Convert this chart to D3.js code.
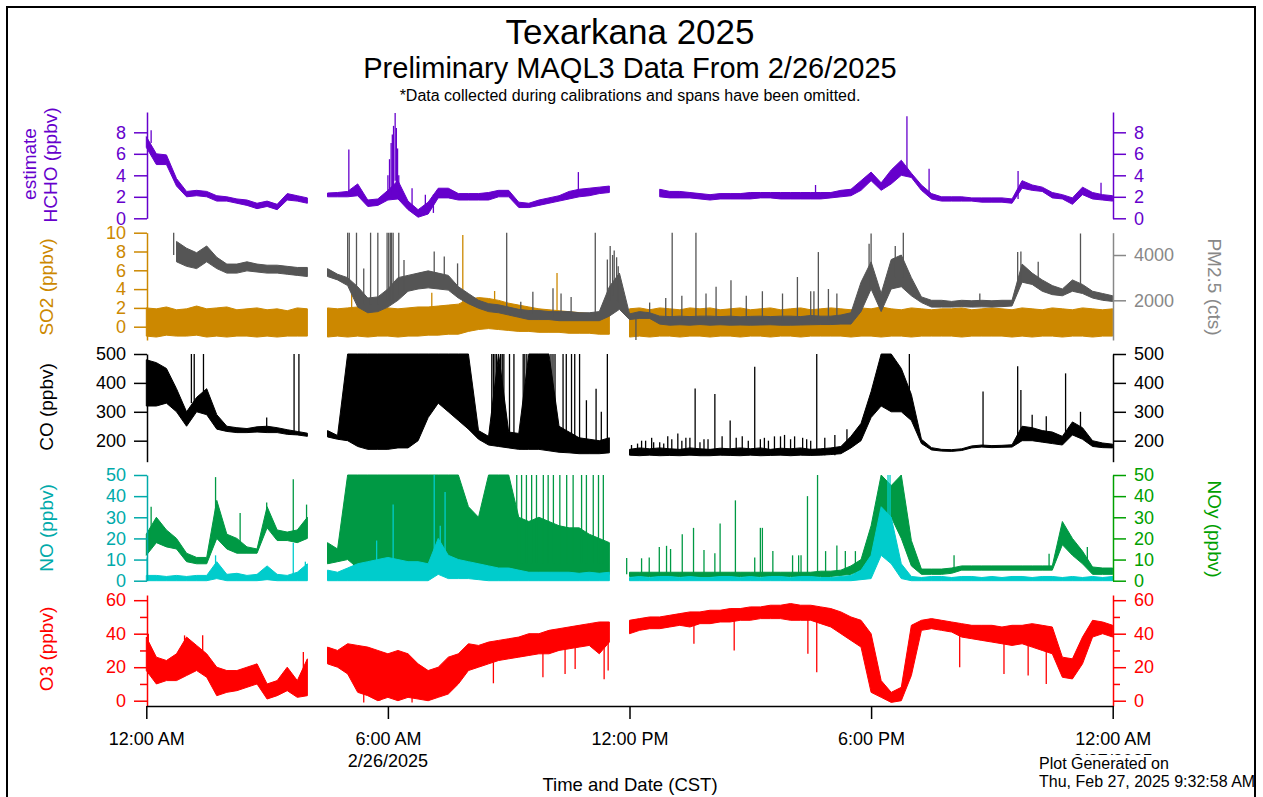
<!DOCTYPE html>
<html>
<head>
<meta charset="utf-8">
<script src="https://cdn.jsdelivr.net/npm/d3@7"></script>
<style>
body { margin: 0; background: #fff; }
</style>
</head>
<body>
<svg id="chart" width="1263" height="797"></svg>
<script>
var FONT = '"Liberation Sans", Arial, Helvetica, sans-serif';

// 15 minute sampling grid, hours after midnight 2/26/2025
var hours = d3.range(0, 24.01, 0.25);

var xTicks = [0, 6, 12, 18, 24];
var xTickLabels = ["12:00 AM", "6:00 AM", "12:00 PM", "6:00 PM", "12:00 AM"];
var xDateLabels = ["", "2/26/2025", "", "", "2/27/2025"];

// each series: low / high envelope per 15 min (null = omitted)
var hchoLo = [
  6.6, 5.0, 5.0, 3.0,   2.0, 2.1, 2.0, 1.6,   1.6, 1.4, 1.2, 0.9,   1.1, 0.8, 1.7, 1.6,
  1.4, null, 2.0, 2.0,  2.0, 2.1, 1.1, 1.2,   1.7, 1.8, 0.8, 0.1,   0.4, 1.9, 1.9, 1.7,
  1.7, 1.7, 1.7, 2.0,   2.0, 1.0, 1.0, 1.2,   1.4, 1.6, 1.8, 2.0,   2.1, 2.3, 2.4, null,
  null, null, null, 2.0, 1.9, 1.9, 1.9, 1.8,  1.7, 1.8, 1.8, 1.8,   1.8, 1.9, 1.9, 1.8,
  1.8, 1.8, 1.8, 1.8,   1.9, 2.0, 2.1, 2.6,   3.5, 2.6, 3.2, 4.0,   3.8, 2.6, 1.8, 1.6,
  1.6, 1.6, 1.6, 1.5,   1.5, 1.5, 1.4, 2.8,   2.6, 2.5, 1.9, 1.8,   1.3, 2.2, 1.8, 1.7,
  1.6
];
var hchoHi = [
  7.6, 6.0, 5.9, 3.7,   2.5, 2.6, 2.5, 2.1,   2.0, 1.8, 1.7, 1.4,   1.6, 1.3, 2.3, 2.1,
  1.9, null, 2.35, 2.4, 2.5, 3.2, 1.7, 1.8,   2.6, 3.5, 1.6, 0.8,   1.5, 2.8, 2.8, 2.3,
  2.3, 2.3, 2.4, 2.6,   2.6, 1.5, 1.4, 1.7,   1.9, 2.1, 2.5, 2.7,   2.8, 2.9, 3.0, null,
  null, null, null, 2.7, 2.5, 2.5, 2.4, 2.3,  2.2, 2.3, 2.3, 2.3,   2.4, 2.4, 2.4, 2.4,
  2.4, 2.4, 2.4, 2.4,   2.4, 2.6, 2.7, 3.5,   4.3, 3.3, 4.5, 5.4,   4.2, 3.1, 2.3, 2.0,
  2.0, 2.0, 1.9, 1.9,   1.9, 1.9, 1.8, 3.5,   3.1, 2.9, 2.4, 2.2,   1.9, 2.9, 2.4, 2.2,
  2.1
];
// [hour, from, to]
var hchoSpikes = [[0.12, 7.0, 8.2], [5.03, 2.2, 6.4], [6.0, 2, 4], [6.04, 2, 5.5], [6.08, 2.2, 7.0],
  [6.11, 2.5, 7.8], [6.14, 3, 8.6], [6.18, 3.5, 9.8], [6.21, 3, 8.4], [6.24, 2.5, 6.5], [6.27, 2, 4],
  [6.6, 1.0, 2.8], [6.93, 0.5, 2.2], [7.13, 0.5, 2.2], [10.73, 2.5, 4.3], [16.62, 2.2, 3.1],
  [18.89, 4.2, 9.5], [19.44, 2.2, 4.6], [21.65, 1.8, 4.4], [23.71, 2.0, 3.3]];

var so2Lo = [
  -1.0, -1.1, -0.9, -1.0,  -1.0, -0.9, -1.1, -1.0,  -1.1, -1.0, -1.0, -1.1,  -1.0, -1.1, -1.0, -1.0,
  -1.0, null, -1.1, -1.0,  -1.1, -1.0, -1.1, -1.0,  -1.0, -1.1, -1.0, -1.0,  -0.9, -0.9, -0.8, -0.8,
  -0.5, -0.3, -0.2, -0.3,  -0.4, -0.5, -0.5, -0.6,  -0.6, -0.6, -0.7, -0.7,  -0.7, -0.8, -0.8, null,
  -1.1, -1.0, -1.1, -1.0,  -1.0, -1.1, -1.0, -1.0,  -1.1, -1.0, -1.0, -1.1,  -1.0, -1.0, -1.1, -1.0,
  -1.0, -1.1, -1.0, -1.0,  -1.0, -1.0, -1.1, -1.0,  -1.0, -1.1, -1.0, -1.0,  -1.1, -1.0, -1.0, -1.0,
  -1.0, -1.1, -1.0, -1.0,  -1.0, -1.0, -1.1, -1.0,  -1.1, -1.0, -1.0, -1.1,  -1.0, -1.0, -1.1, -1.0,
  -1.0
];
var so2Hi = [
  2.0, 1.9, 2.1, 1.8,   1.9, 2.2, 1.9, 2.0,   2.1, 1.8, 1.9, 2.0,   1.8, 1.9, 1.7, 2.0,
  1.9, null, 2.0, 1.9,  2.0, 2.1, 1.9, 2.0,   2.0, 1.9, 2.0, 2.1,   2.1, 2.2, 2.3, 2.4,
  2.9, 3.1, 3.0, 2.8,   2.5, 2.3, 2.1, 1.9,   1.8, 1.7, 1.6, 1.5,   1.4, 1.3, 1.3, null,
  1.9, 2.0, 1.8, 2.0,   1.9, 1.8, 2.0, 1.9,   2.0, 1.8, 1.9, 2.0,   1.8, 1.9, 2.0, 1.8,
  1.9, 2.0, 1.8, 1.9,   2.0, 1.9, 1.8, 2.0,   1.9, 2.1, 1.9, 1.8,   2.0, 1.9, 1.8, 1.9,
  1.9, 2.0, 1.8, 1.9,   2.0, 1.9, 1.8, 2.0,   1.9, 1.8, 2.0, 1.9,   1.8, 2.0, 1.9, 1.8,
  1.9
];
var so2Spikes = [[5.1, 1.5, 3.7], [7.09, 1.8, 3.6], [7.86, 2.0, 9.75], [8.65, 2.5, 3.8], [10.2, 1.6, 5.7]];

var pmLo = [
  null, null, null, 3700,  3500, 3400, 3700, 3400,  3200, 3200, 3300, 3250,  3200, 3200, 3150, 3100,
  3050, null, 3050, 2900,  2650, 1700, 1450, 1500,  1700, 2000, 2400, 2500,  2550, 2500, 2450, 2100,
  1850, 1650, 1500, 1450,  1350, 1250, 1150, 1150,  1150, 1100, 1100, 1100,  1100, 1100, 1300, 1600,
  1150, 1200, 1200, 950,   900, 920, 900, 930,      900, 920, 900, 910,      900, 910, 920, 900,
  900, 910, 920, 930,      930, 950, 950, 1500,     2500, 1500, 2500, 2600,  2200, 1900, 1700, 1700,
  1700, 1720, 1700, 1710,  1700, 1720, 1750, 2800,  2700, 2400, 2250, 2200,  2400, 2300, 2100, 2000,
  1950
];
var pmHi = [
  null, null, null, 4600,  4300, 4100, 4400, 3900,  3600, 3600, 3700, 3600,  3550, 3550, 3500, 3450,
  3450, null, 3400, 3150,  3000, 2600, 2100, 2150,  2500, 3000, 3100, 3200,  3300, 3200, 3100, 2600,
  2300, 2000, 1850, 1800,  1700, 1600, 1550, 1550,  1500, 1500, 1500, 1450,  1450, 1500, 2600, 3200,
  1400, 1500, 1450, 1300,  1280, 1300, 1280, 1300,  1300, 1280, 1300, 1270,  1290, 1300, 1280, 1300,
  1300, 1280, 1330, 1300,  1300, 1350, 1450, 2800,  3700, 2300, 3800, 4000,  3000, 2150, 2000, 2000,
  1950, 2000, 1980, 2000,  1980, 2000, 2000, 3600,  3200, 2900, 2650, 2500,  2900, 2700, 2400, 2300,
  2200
];
var pmSpikes = [[0.68, 4000, 4985], [5.0, 2800, 4985], [5.04, 2800, 4985], [5.22, 2200, 4985],
  [5.4, 1800, 3400], [5.57, 1800, 4985], [5.75, 1800, 4985], [5.98, 2000, 4985], [6.02, 2000, 4985],
  [6.06, 2000, 4985], [6.09, 2000, 4985], [6.13, 2000, 4985], [6.27, 2200, 4985], [6.4, 2400, 3780],
  [7.15, 2900, 4150], [7.4, 2900, 3930], [7.73, 2500, 3630], [8.95, 1700, 4985], [9.3, 1400, 1940],
  [9.6, 1400, 2380], [10.1, 1300, 2530], [10.3, 1300, 2300], [10.55, 1300, 2150], [11.15, 1300, 4985],
  [11.45, 1800, 3800], [11.52, 2000, 4400], [11.58, 2200, 4000], [11.62, 2200, 4200], [11.68, 2000, 3900],
  [11.72, 1900, 3500], [12.16, 1300, 250], [12.5, 1200, 1900], [12.9, 1100, 2100], [13.06, 1100, 4985],
  [13.3, 1100, 2200], [13.65, 1100, 4985], [13.9, 1100, 2300], [14.15, 1100, 2600], [14.52, 1100, 2880],
  [14.9, 1100, 2200], [15.3, 1100, 2400], [15.8, 1100, 2300], [16.17, 1100, 3030], [16.5, 1100, 2400],
  [16.58, 1100, 2400], [16.69, 1100, 4130], [16.94, 1100, 2500], [17.15, 1100, 2300], [17.95, 2600, 4500],
  [18.0, 2800, 4950], [18.6, 3000, 4400], [18.8, 3000, 4985], [20.7, 1900, 2300], [21.64, 2800, 4130],
  [21.72, 2800, 4150], [22.15, 2800, 3700], [23.2, 2600, 4950]];

var coLo = [
  320, 320, 330, 300,   250, 300, 290, 240,   232, 228, 228, 230,   228, 228, 222, 220,
  215, null, 213, 205,  200, 180, 170, 170,   170, 175, 175, 200,   280, 330, 300, 270,
  240, 205, 185, 180,   175, 170, 170, 170,   165, 160, 158, 155,   155, 155, 158, null,
  150, 148, 150, 148,   149, 148, 150, 148,   148, 150, 149, 148,   150, 148, 149, 150,
  148, 150, 149, 150,   152, 155, 175, 200,   280, 320, 300, 300,   270, 190, 168, 164,
  163, 166, 175, 178,   176, 177, 178, 200,   200, 195, 190, 185,   220, 205, 180, 176,
  175
];
var coHi = [
  480, 470, 450, 380,   300, 350, 380, 290,   250, 245, 242, 248,   250, 245, 238, 232,
  226, null, 235, 218,  500, 500, 500, 500,   500, 500, 500, 500,   500, 500, 500, 500,
  500, 235, 215, 500,   230, 225, 500, 500,   500, 250, 230, 210,   205, 200, 210, null,
  170, 175, 172, 175,   172, 170, 175, 172,   170, 174, 172, 175,   172, 175, 170, 174,
  172, 175, 170, 172,   175, 180, 215, 260,   370, 500, 500, 450,   360, 205, 176, 170,
  169, 172, 182, 185,   183, 184, 186, 250,   245, 235, 230, 215,   265, 245, 200, 192,
  188
];
var coSpikes = [[1.12, 330, 500], [1.19, 330, 500], [1.42, 340, 500], [2.99, 235, 280], [3.67, 220, 500],
  [3.79, 220, 500], [8.58, 190, 500], [8.62, 190, 500], [8.66, 190, 500], [8.7, 190, 500],
  [8.8, 190, 500], [8.84, 190, 500], [8.88, 190, 500], [9.02, 180, 500], [9.13, 180, 500],
  [9.36, 170, 500], [9.4, 170, 500], [9.45, 170, 500], [10.05, 165, 500], [10.1, 165, 500],
  [10.15, 165, 500], [10.35, 160, 500], [10.43, 160, 500], [10.56, 160, 500], [10.64, 160, 500],
  [10.76, 160, 500], [10.93, 158, 340], [11.17, 158, 380], [11.3, 158, 300], [11.45, 158, 500],
  [12.05, 150, 185], [12.2, 150, 190], [12.3, 160, 200], [12.4, 150, 200], [12.55, 160, 210],
  [12.6, 150, 195], [12.75, 160, 195], [12.85, 150, 190], [12.95, 160, 215], [13.05, 150, 205],
  [13.2, 160, 225], [13.3, 150, 200], [13.4, 160, 210], [13.5, 150, 210], [13.63, 165, 381],
  [13.75, 150, 195], [13.85, 160, 205], [13.95, 150, 205], [14.12, 160, 362], [14.3, 150, 215],
  [14.5, 160, 270], [14.65, 150, 210], [14.8, 160, 215], [14.95, 150, 200], [15.11, 165, 456],
  [15.25, 150, 205], [15.35, 160, 210], [15.45, 150, 200], [15.6, 160, 215], [15.75, 150, 215],
  [15.85, 160, 220], [16.0, 150, 205], [16.1, 160, 215], [16.3, 150, 210], [16.4, 160, 205],
  [16.5, 150, 200], [16.65, 165, 500], [16.85, 150, 210], [17.1, 150, 220], [17.4, 170, 240],
  [18.95, 320, 500], [20.78, 180, 370], [21.64, 190, 458], [21.72, 200, 375], [22.0, 210, 290],
  [22.35, 210, 285], [22.83, 230, 433], [23.2, 230, 300]];

var noyLo = [
  12, 18, 16, 15,   9, 8, 8, 20,     15, 13, 13, 13,   25, 19, 19, 18,
  20, null, 8, 9,   10, 6, 5, 5,     5, 5, 5, 5,       6, 7, 8, 8,
  8, 8, 6, 6,       6, 5, 4, 4,      4, 3, 3, 3,       3, 3, 3, null,
  2, 2, 2, 2,       2, 2, 2, 2,      2, 2, 2, 2,       2, 2, 2, 2,
  2, 2, 2, 2,       2, 2.5, 3, 5,    8, 26, 30, 20,    7, 3, 3, 3,
  3.5, 5, 5, 5,     5, 5, 5, 5,      5, 5, 5, 17,      12, 8, 3, 3,
  3
];
var noyHi = [
  22, 30, 24, 20,   13, 11, 11, 38,   22, 20, 16, 15,   35, 24, 23, 24,
  30, null, 18, 15, 50, 50, 50, 50,   50, 50, 50, 50,   50, 50, 50, 50,
  35, 30, 50, 50,   50, 30, 28, 30,   28, 26, 25, 25,   22, 20, 18, null,
  4, 4, 4, 4,       4, 4, 4, 4,       4, 4, 4, 4,       4, 4, 4, 4,
  4, 4, 4, 4.5,     4.5, 5, 7, 10,    26, 50, 45, 50,   19, 5.5, 5.5, 5.5,
  6, 7, 7, 7,       7, 7, 7, 7,       7, 7, 7, 28,      20, 14, 6.5, 6,
  6
];
var noySpikes = [[0.12, 20, 35], [1.72, 30, 49], [2.33, 18, 32], [2.99, 25, 37], [3.65, 22, 48],
  [3.98, 22, 36], [9.2, 8, 50], [9.32, 8, 50], [9.44, 8, 50], [9.57, 8, 50], [9.69, 8, 50],
  [9.86, 8, 50], [9.98, 8, 50], [10.11, 8, 50], [10.27, 8, 50], [10.44, 8, 50], [10.6, 8, 50],
  [10.81, 8, 50], [10.93, 8, 50], [11.1, 8, 50], [11.23, 8, 50], [11.35, 8, 50],
  [11.93, 3, 10.7], [12.3, 3, 10.6], [12.49, 3, 11], [12.74, 3, 16], [12.92, 3, 16.5], [13.02, 3, 15],
  [13.31, 3, 22], [13.59, 3, 25], [13.85, 3, 14.5], [14.12, 3, 13], [14.25, 3, 27], [14.63, 3, 38],
  [15.11, 3, 11], [15.25, 3, 25], [15.3, 3, 25], [15.56, 3, 14], [16.05, 3, 12], [16.2, 3, 12],
  [16.26, 3, 12], [16.42, 3, 40], [16.67, 3, 50], [16.87, 3, 14], [17.15, 3, 16.6], [17.36, 3, 14],
  [17.61, 3, 14], [20.06, 5, 12], [22.42, 6, 12.8], [23.37, 8, 16]];

var noLo = [
  0, 0, 0, 0,   0, 0, 0, 1,   0, 0, 0, 0,   0.5, 0, 0, 0,
  0, null, 0, 0,  0, 0, 0, 0,  0, 0, 0, 0,   0, 3, 1, 1,
  1, 0.5, 0, 0,  0, 0, 0, 0,  0, 0, 0, 0,   0, 0, 0, null,
  0, 0, 0, 0,   0, 0, 0, 0,   0, 0, 0, 0,   0, 0, 0, 0,
  0, 0, 0, 0,   0, 0, 0, 0.5, 1, 12, 8, 1,  0, 0, 0, 0,
  0, 0, 0, 0,   0, 0, 0, 0,   0, 0, 0, 0,   0, 0, 0, 0,
  0
];
var noHi = [
  2.5, 2.5, 2, 2.5,  2, 2.5, 2.5, 9,   3, 3.5, 2.5, 3,   7, 3, 2.5, 4,
  8, null, 5, 4,     6, 8, 9, 10,      11, 10, 9, 9,     8, 20, 12, 10,
  9, 8, 7, 6,        6, 5, 4, 4,       4, 4, 4, 3.5,     4, 3.5, 4, null,
  1.5, 2, 1.5, 2,    2, 1.5, 2, 1.5,   1.5, 2, 2, 1.5,   2, 1.5, 2, 2,
  1.5, 2, 2, 1.5,    1.5, 2, 2.5, 5,   12, 35, 30, 8,    2, 1.5, 2, 2,
  1.5, 2, 2, 1.5,    2, 1.5, 2, 2,     1.5, 2, 2, 1.5,   2, 1.5, 2, 1.5,
  2
];
var noSpikes = [[0.02, 2, 11], [1.72, 3, 12], [3.65, 3, 18], [3.95, 3, 9], [5.72, 4, 19], [6.13, 4, 36],
  [7.15, 10, 50], [7.3, 10, 26], [7.42, 10, 42], [18.42, 30, 50], [18.47, 30, 50]];

var o3Lo = [
  18, 10, 12, 12,   15, 18, 14, 3,    5, 6, 8, 10,      1, 3, 6, 2,
  3, null, 22, 20,  16, 5, 3, 0,      2, 0, 2, 1,       0, 2, 4, 10,
  18, 20, 22, 24,   25, 26, 27, 28,   28, 30, 31, 32,   33, 28, 35, null,
  40, 42, 43, 43,   44, 45, 44, 46,   46, 47, 47, 48,   48, 49, 49, 49,
  48, 48, 48, 46,   44, 40, 36, 32,   5, 2, -1, 0,      15, 42, 43, 42,
  41, 38, 37, 36,   35, 34, 33, 34,   32, 30, 28, 14,   13, 22, 38, 40,
  38
];
var o3Hi = [
  38, 26, 24, 28,   38, 33, 28, 20,   18, 18, 20, 22,   10, 12, 20, 12,
  25, null, 32, 30, 34, 33, 32, 30,   28, 30, 28, 22,   18, 20, 26, 28,
  34, 33, 35, 36,   37, 38, 40, 40,   42, 43, 44, 45,   46, 47, 47, null,
  48, 49, 50, 50,   51, 52, 53, 53,   54, 54, 55, 55,   56, 56, 57, 57,
  58, 57, 57, 56,   55, 53, 50, 48,   40, 12, 5, 8,     45, 48, 49, 48,
  47, 46, 45, 45,   45, 44, 45, 45,   46, 45, 44, 26,   25, 38, 48, 47,
  45
];
var o3Spikes = [[0.05, 25, 40], [0.95, 25, 39], [1.4, 25, 39], [3.9, 15, 29], [5.4, 15, -1], [5.8, 15, 0],
  [6.6, 10, -1], [8.62, 25, 10.4], [9.85, 30, 14], [10.4, 32, 16], [10.65, 34, 19], [11.37, 36, 12.8],
  [11.47, 40, 18], [13.6, 47, 34], [14.6, 48, 30], [16.43, 50, 28], [16.65, 52, 17], [20.2, 40, 20],
  [21.3, 38, 16], [21.9, 38, 15], [22.35, 35, 10]];

var svg = d3.select("#chart");

var x = d3.scaleLinear().domain([0, 24]).range([146.3, 1112.7]);
var xL = 147, xR = 1113;

var yHcho = d3.scaleLinear().domain([0, 9.89]).range([218.3, 112]).clamp(true);
var ySo2 = d3.scaleLinear().domain([-1.415, 10]).range([340, 232.7]).clamp(true);
var yPm = d3.scaleLinear().domain([247, 4985]).range([340, 232.7]).clamp(true);
var yCo = d3.scaleLinear().domain([127.3, 500]).range([461.7, 354]).clamp(true);
var yNo = d3.scaleLinear().domain([0, 50]).range([580.7, 475]).clamp(true);
var yO3 = d3.scaleLinear().domain([-3.16, 63.1]).range([706, 595]).clamp(true);

// frame
svg.append("defs").append("clipPath").attr("id", "frame")
  .append("rect").attr("x", 8).attr("y", 8).attr("width", 1246).attr("height", 800);
svg.append("rect").attr("x", 7).attr("y", 7).attr("width", 1248).attr("height", 820)
  .attr("fill", "#fff").attr("stroke", "#000").attr("stroke-width", 2);

var root = svg.append("g").attr("clip-path", "url(#frame)");

// titles
root.append("text").attr("x", 630).attr("y", 44).attr("text-anchor", "middle")
  .attr("font-family", FONT).attr("font-size", 35).text("Texarkana 2025");
root.append("text").attr("x", 630).attr("y", 78).attr("text-anchor", "middle")
  .attr("font-family", FONT).attr("font-size", 29).text("Preliminary MAQL3 Data From 2/26/2025");
root.append("text").attr("x", 630).attr("y", 101).attr("text-anchor", "middle")
  .attr("font-family", FONT).attr("font-size", 16).text("*Data collected during calibrations and spans have been omitted.");

function band(lo, hi, y, color) {
  var data = hours.map(function(t, i) { return {t: t, lo: lo[i], hi: hi[i]}; });
  var area = d3.area()
    .defined(function(d) { return d.lo != null && d.hi != null; })
    .x(function(d) { return x(d.t); })
    .y0(function(d) { return y(d.lo); })
    .y1(function(d) { return y(d.hi); });
  root.append("path").datum(data).attr("d", area)
    .attr("fill", color).attr("stroke", color).attr("stroke-width", 1).attr("stroke-linejoin", "round");
}

function spikes(list, y, color) {
  root.append("g").selectAll("line").data(list).enter().append("line")
    .attr("x1", function(d) { return x(d[0]); })
    .attr("x2", function(d) { return x(d[0]); })
    .attr("y1", function(d) { return y(d[1]); })
    .attr("y2", function(d) { return y(d[2]); })
    .attr("stroke", color).attr("stroke-width", 1.3);
}

band(hchoLo, hchoHi, yHcho, "#6600cc");
spikes(hchoSpikes, yHcho, "#6600cc");

band(so2Lo, so2Hi, ySo2, "#cc8800");
spikes(so2Spikes, ySo2, "#cc8800");
band(pmLo, pmHi, yPm, "#555555");
spikes(pmSpikes, yPm, "#555555");

band(coLo, coHi, yCo, "#000000");
spikes(coSpikes, yCo, "#000000");

band(noyLo, noyHi, yNo, "#009944");
spikes(noySpikes, yNo, "#009944");
band(noLo, noHi, yNo, "#00cccc");
spikes(noSpikes, yNo, "#00cccc");

band(o3Lo, o3Hi, yO3, "#ff0000");
spikes(o3Spikes, yO3, "#ff0000");

function styleAxis(g, color) {
  g.attr("color", color).attr("font-size", 18).attr("font-family", FONT);
  g.selectAll("path, line").attr("stroke-width", 1.5);
}

function yAxis(side, scale, ticks, color, size) {
  var ax = side == "left" ? d3.axisLeft(scale) : d3.axisRight(scale);
  ax.tickValues(ticks).tickSize(size || 13).tickSizeOuter(0).tickPadding(8).tickFormat(d3.format("d"));
  if (size) ax.tickFormat("");
  var g = root.append("g").attr("transform", "translate(" + (side == "left" ? xL : xR) + ",0)").call(ax);
  styleAxis(g, color);
  return g;
}

yAxis("left", yHcho, [0, 2, 4, 6, 8], "#6600cc");
yAxis("right", yHcho, [0, 2, 4, 6, 8], "#6600cc");
yAxis("left", ySo2, [0, 2, 4, 6, 8, 10], "#cc8800");
yAxis("right", yPm, [2000, 4000], "#888888");
yAxis("left", yCo, [200, 300, 400, 500], "#000000");
yAxis("right", yCo, [200, 300, 400, 500], "#000000");
yAxis("left", yNo, [0, 10, 20, 30, 40, 50], "#00aaaa");
yAxis("right", yNo, [0, 10, 20, 30, 40, 50], "#00a000");
yAxis("left", yO3, [0, 20, 40, 60], "#ff0000");
yAxis("right", yO3, [0, 20, 40, 60], "#ff0000");
yAxis("left", yO3, [10, 30, 50], "#ff0000", 7).select(".domain").remove();
yAxis("right", yO3, [10, 30, 50], "#ff0000", 7).select(".domain").remove();

// time axis
var gx = root.append("g").attr("transform", "translate(0,706)")
  .call(d3.axisBottom(x).tickValues(xTicks).tickSize(13).tickSizeOuter(0).tickPadding(13)
    .tickFormat(function(d, i) { return xTickLabels[i]; }));
styleAxis(gx, "#000000");

root.append("g").selectAll("text").data(xTicks).enter().append("text")
  .attr("x", function(d) { return x(d); }).attr("y", 767).attr("text-anchor", "middle")
  .attr("font-family", FONT).attr("font-size", 18)
  .text(function(d, i) { return xDateLabels[i]; });

root.append("text").attr("x", 630).attr("y", 791).attr("text-anchor", "middle")
  .attr("font-family", FONT).attr("font-size", 18.5).text("Time and Date (CST)");

// axis titles
function axisTitle(text, px, py, angle, color) {
  root.append("text").attr("transform", "translate(" + px + "," + py + ") rotate(" + angle + ")")
    .attr("text-anchor", "middle").attr("font-family", FONT).attr("font-size", 19)
    .attr("fill", color).text(text);
}
axisTitle("estimate", 36, 164, -90, "#6600cc");
axisTitle("HCHO (ppbv)", 57, 165, -90, "#6600cc");
axisTitle("SO2 (ppbv)", 53, 287, -90, "#cc8800");
axisTitle("CO (ppbv)", 53, 407, -90, "#000000");
axisTitle("NO (ppbv)", 53, 528, -90, "#00aaaa");
axisTitle("O3 (ppbv)", 53, 649, -90, "#ff0000");
axisTitle("PM2.5 (cts)", 1208, 287, 90, "#888888");
axisTitle("NOy (ppbv)", 1208, 529, 90, "#00a000");

// plot stamp
root.append("rect").attr("x", 1037).attr("y", 755).attr("width", 230).attr("height", 50).attr("fill", "#fff");
root.append("text").attr("x", 1039).attr("y", 769).attr("font-family", FONT).attr("font-size", 16)
  .text("Plot Generated on");
root.append("text").attr("x", 1039).attr("y", 787).attr("font-family", FONT).attr("font-size", 16)
  .text("Thu, Feb 27, 2025 9:32:58 AM");
</script>
</body>
</html>
